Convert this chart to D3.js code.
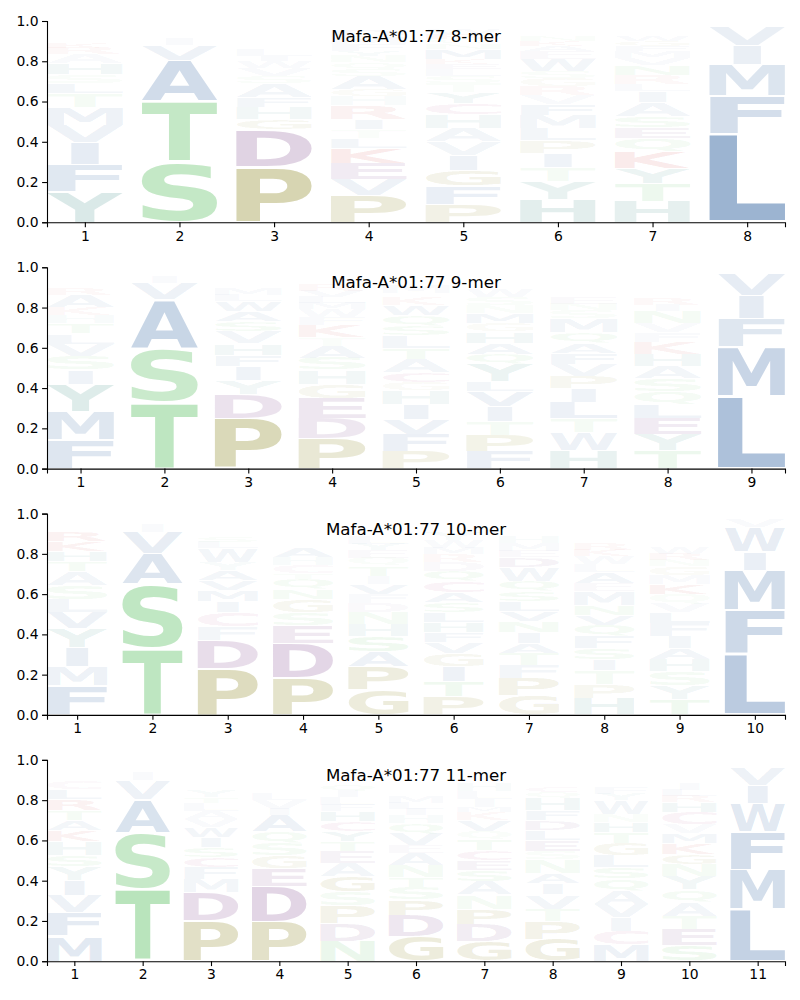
<!DOCTYPE html>
<html>
<head>
<meta charset="utf-8">
<script src="https://cdn.jsdelivr.net/npm/d3@7"></script>
<style>
  body { margin: 0; background: #fff; }
  svg { display: block; }
</style>
</head>
<body>
<script>
// letter:height pairs per position, stacked bottom to top
const allele = "Mafa-A*01:77";
const merLengths = [8, 9, 10, 11];

const mer8 = [
  "Y:.150 F:.135 I:.110 V:.085 M:.090 T:.070 L:.050 S:.045 H:.055 A:.045 R:.030 K:.025 W:.020 N:.020 Q:.020 E:.015 G:.015 C:.010 D:.010",
  "S:.300 T:.300 A:.205 V:.075 I:.035 L:.020 M:.020 F:.015 C:.010 G:.010 Y:.005",
  "P:.275 D:.185 G:.050 H:.060 F:.050 A:.070 S:.035 V:.040 W:.035 I:.025 L:.030 M:.020 E:.020 N:.020 T:.020 Y:.020 Q:.015 K:.010 R:.010",
  "P:.135 V:.080 E:.080 K:.075 L:.050 T:.040 I:.050 R:.070 H:.045 G:.035 A:.065 S:.035 Q:.035 N:.030 Y:.025 F:.035 M:.035 D:.030 W:.020 C:.020",
  "P:.090 F:.090 G:.080 I:.075 V:.065 A:.065 H:.070 C:.055 Y:.055 T:.045 S:.035 L:.035 E:.025 K:.025 M:.050 N:.025 Q:.025 R:.025 W:.025 D:.020",
  "H:.115 Y:.090 T:.070 I:.070 P:.060 L:.060 M:.065 F:.055 V:.045 R:.045 G:.040 S:.035 W:.060 E:.040 A:.025 K:.025 N:.025 D:.020 C:.020 Q:.020",
  "H:.105 T:.090 Y:.075 K:.080 Q:.065 E:.055 S:.055 A:.070 I:.055 L:.035 R:.045 N:.050 V:.035 M:.035 F:.025 G:.025 W:.025 D:.020 C:.015 P:.020",
  "L:.440 F:.190 M:.155 I:.095 V:.095 Y:.015 W:.010"
];

const mer9 = [
  "F:.145 M:.140 Y:.135 I:.070 S:.070 V:.060 L:.050 T:.050 H:.040 K:.040 A:.060 R:.030 N:.020 Q:.020 E:.010 G:.010 W:.010 D:.010 P:.010 C:.010",
  "T:.330 S:.270 A:.240 V:.080 I:.035 L:.010 M:.010 F:.010 C:.005 G:.005",
  "P:.250 D:.120 Y:.070 I:.070 F:.055 H:.055 V:.060 S:.050 A:.050 W:.050 L:.030 M:.030 E:.020 T:.020 N:.020 Q:.020 K:.010 R:.010 C:.010",
  "P:.150 D:.100 E:.100 G:.070 H:.070 S:.060 A:.060 T:.040 K:.060 F:.040 W:.040 M:.030 L:.030 V:.030 R:.030 Q:.020 N:.020 Y:.020 I:.020 C:.010",
  "P:.085 F:.085 V:.075 I:.075 H:.070 G:.040 C:.050 A:.065 T:.055 L:.060 S:.050 Q:.050 W:.050 K:.040 R:.020 M:.040 E:.020 N:.020 Y:.020 D:.020",
  "F:.085 P:.080 T:.070 I:.075 V:.075 L:.050 Y:.085 Q:.050 A:.055 H:.055 G:.040 M:.050 N:.040 S:.040 W:.040 E:.020 K:.020 R:.020 D:.020 C:.010",
  "H:.090 W:.090 T:.070 L:.080 I:.070 P:.060 V:.060 F:.055 A:.050 Q:.050 M:.070 S:.040 N:.030 E:.030 K:.020 R:.020 G:.020 Y:.020 D:.010 C:.010",
  "T:.090 Y:.080 E:.080 L:.070 Q:.065 S:.065 A:.060 H:.060 K:.060 F:.045 V:.045 N:.060 I:.030 R:.030 M:.020 W:.020 G:.020 P:.010 D:.010 C:.010",
  "L:.360 M:.245 F:.140 I:.115 V:.110 W:.010 Y:.010 T:.005"
];

const mer10 = [
  "F:.145 M:.095 I:.095 Y:.095 V:.080 L:.065 S:.070 A:.070 T:.050 H:.050 K:.050 R:.050 N:.020 Q:.015 W:.015 E:.010 G:.010",
  "T:.330 S:.320 A:.150 V:.110 I:.040 L:.010 M:.010 F:.010 G:.010",
  "P:.230 D:.140 F:.070 C:.070 I:.055 M:.055 V:.050 A:.050 Y:.040 W:.070 L:.030 S:.030 T:.020 G:.020 E:.020 N:.010 Q:.010 H:.010",
  "P:.185 D:.170 E:.090 S:.065 G:.065 N:.050 Q:.050 T:.030 C:.040 H:.040 A:.050 V:.020 K:.020 R:.020 Y:.020 L:.020 F:.020 I:.010 M:.010 W:.010",
  "G:.125 P:.115 A:.075 S:.075 H:.060 N:.060 D:.045 F:.045 V:.050 I:.040 T:.050 Q:.040 E:.040 Y:.030 L:.040 K:.020 R:.020 M:.020 W:.020 C:.010",
  "P:.090 T:.075 I:.075 G:.065 V:.055 F:.050 H:.050 L:.050 S:.050 A:.050 C:.055 Q:.050 D:.045 R:.040 M:.030 W:.040 Y:.040 E:.020 N:.020 K:.020",
  "G:.095 P:.085 F:.065 T:.060 A:.050 I:.055 N:.055 V:.050 L:.050 S:.050 Q:.050 W:.070 D:.050 E:.030 M:.040 H:.030 K:.020 R:.020 Y:.020 C:.020",
  "H:.080 P:.070 T:.070 I:.055 S:.055 F:.060 Q:.055 V:.050 N:.050 M:.070 E:.040 A:.055 L:.040 W:.040 K:.030 R:.030 Y:.020 G:.020 D:.020 C:.010",
  "T:.075 Y:.070 S:.070 H:.060 A:.055 I:.060 F:.065 L:.055 V:.045 Q:.045 K:.050 M:.045 G:.045 N:.030 R:.030 W:.030 E:.020 D:.020 P:.020 C:.010",
  "L:.300 F:.220 M:.200 I:.090 W:.120 V:.040 Y:.010 T:.010"
];

const mer11 = [
  "M:.125 F:.115 V:.085 I:.075 Y:.070 S:.055 H:.070 K:.055 A:.050 T:.050 R:.055 L:.050 C:.040 N:.020 W:.020 E:.020 G:.010 D:.010 P:.010",
  "T:.355 S:.285 A:.165 V:.095 I:.040 L:.015 M:.010 F:.010 G:.010",
  "P:.200 D:.140 M:.065 F:.060 C:.050 S:.050 I:.050 W:.050 V:.040 A:.040 L:.040 T:.030 Y:.030 E:.020 G:.020 N:.020 Q:.020 H:.020 K:.010 R:.010",
  "P:.195 D:.175 E:.090 G:.065 S:.060 Q:.060 A:.080 I:.030 V:.045 L:.030 K:.020 N:.020 H:.020 Y:.020 F:.020 M:.020 R:.010 W:.010",
  "N:.100 D:.090 P:.085 S:.070 G:.075 A:.065 E:.060 T:.050 Y:.050 C:.050 H:.050 F:.030 L:.040 I:.030 Q:.030 K:.020 R:.020 M:.020 W:.020 V:.020",
  "G:.125 D:.105 P:.075 S:.060 T:.050 N:.060 A:.060 E:.040 V:.060 Q:.050 H:.040 I:.030 L:.030 M:.030 Y:.020 F:.020 K:.020 R:.020 W:.020 C:.010",
  "G:.100 D:.085 P:.075 N:.070 A:.065 S:.055 E:.050 C:.050 T:.055 Q:.040 V:.055 K:.040 M:.025 I:.040 L:.040 H:.040 Y:.020 F:.020 W:.020 R:.020",
  "G:.110 P:.090 T:.060 V:.070 I:.055 A:.050 N:.070 S:.040 E:.055 L:.050 D:.050 F:.050 H:.060 Q:.030 C:.030 K:.020 R:.020 Y:.020 M:.020 W:.020",
  "M:.080 C:.070 I:.070 V:.065 A:.065 Q:.060 S:.055 L:.060 G:.060 T:.055 H:.050 N:.040 W:.070 Y:.030 F:.030 E:.020 K:.020 R:.020 D:.020 P:.010",
  "S:.080 E:.080 T:.065 A:.070 Q:.060 Y:.065 N:.060 G:.050 K:.055 M:.050 V:.045 C:.060 H:.050 R:.030 L:.030 I:.030 F:.020 D:.020 P:.020 W:.010",
  "L:.260 M:.195 F:.190 W:.140 I:.090 V:.090 Y:.010 T:.010"
];

const yTicks = [0, 0.2, 0.4, 0.6, 0.8, 1.0];

const panels = [mer8, mer9, mer10, mer11];

const colors = {
  A: "#4a76ac", V: "#4a76ac", I: "#4a76ac", L: "#4a76ac", M: "#4a76ac", F: "#4a76ac", W: "#4a76ac",
  Y: "#3d8c84", H: "#3d8c84",
  S: "#62c268", T: "#62c268", N: "#62c268", Q: "#62c268",
  D: "#7a3f88", E: "#7a3f88",
  C: "#b04a80",
  K: "#cc3333", R: "#cc3333",
  P: "#8a8520", G: "#8a8520"
};

const width = 800, height = 1000;
const left = 47, right = 785;
const top0 = 21, step = 246.3, panelH = 201.3;
const glyphW = 0.8, vpad = 0.05;
const font = "DejaVu Sans";

const svg = d3.select("body").append("svg")
    .attr("width", width)
    .attr("height", height);

// tight glyph boxes from canvas, so letters can be stretched into their slot
const FS = 200;
const ctx = document.createElement("canvas").getContext("2d");
ctx.font = "bold " + FS + "px \"" + font + "\"";
const metrics = {};
function metric(c) {
    if (!metrics[c]) {
        let m = ctx.measureText(c);
        metrics[c] = {l: m.actualBoundingBoxLeft, r: m.actualBoundingBoxRight,
                      a: m.actualBoundingBoxAscent, d: m.actualBoundingBoxDescent};
    }
    return metrics[c];
}
const eWidth = metric("E").l + metric("E").r;

function parse(col) {
    return col.trim().split(/\s+/).map(t => {
        let [c, v] = t.split(":");
        return {c: c, v: +v};
    });
}

panels.forEach((cols, i) => {
    let n = cols.length;
    let y0 = top0 + i * step;
    let x = d3.scaleLinear().domain([0.6, n + 0.4]).range([left, right]);
    let y = d3.scaleLinear().domain([0, 1]).range([y0 + panelH, y0]);
    let g = svg.append("g");

    let glyphs = [];
    cols.forEach((col, j) => {
        let base = 0;
        for (let d of parse(col)) {
            glyphs.push({pos: j + 1, c: d.c, v: d.v, b: base});
            base += d.v;
        }
    });

    g.selectAll("text.glyph")
        .data(glyphs)
        .join("text")
        .attr("class", "glyph")
        .attr("font-family", font)
        .attr("font-weight", "bold")
        .attr("font-size", FS)
        .attr("fill", d => colors[d.c])
        .attr("fill-opacity", d => Math.min(1, 1.25 * d.v))
        .attr("transform", d => {
            let m = metric(d.c);
            let gw = m.l + m.r, gh = m.a + m.d;
            let bw = x(d.pos + glyphW / 2) - x(d.pos - glyphW / 2);
            let top = y(d.b + d.v * (1 - vpad / 2));
            let bottom = y(d.b + d.v * vpad / 2);
            let sx = Math.min(bw / gw, bw / eWidth);
            let sy = (bottom - top) / gh;
            let cx = x(d.pos) - gw * sx / 2;
            return "translate(" + cx + "," + top + ") scale(" + sx + "," + sy + ") translate(" + m.l + "," + m.a + ")";
        })
        .text(d => d.c);

    let yAxis = g.append("g")
        .attr("transform", "translate(" + left + ",0)")
        .call(d3.axisLeft(y).tickValues(yTicks).tickFormat(d3.format(".1f"))
            .tickSizeOuter(0).tickSize(4.9).tickPadding(3.5));
    let xAxis = g.append("g")
        .attr("transform", "translate(0," + (y0 + panelH) + ")")
        .call(d3.axisBottom(x).tickValues(d3.range(1, n + 1)).tickFormat(d3.format("d"))
            .tickSizeOuter(0).tickSize(4.9).tickPadding(3.5));

    for (let ax of [yAxis, xAxis]) {
        ax.selectAll("text").attr("font-family", font).attr("font-size", 13.9).attr("fill", "#000");
        ax.selectAll("line").attr("stroke", "#000").attr("stroke-width", 1.1);
        ax.select(".domain").attr("stroke", "#000").attr("stroke-width", 1.1);
        ax.attr("font-family", null).attr("font-size", null);
    }

    g.append("text")
        .attr("x", (left + right) / 2)
        .attr("y", y0 + 21)
        .attr("text-anchor", "middle")
        .attr("font-family", font)
        .attr("font-size", 16.7)
        .attr("fill", "#000")
        .text(allele + " " + merLengths[i] + "-mer");
});
</script>
</body>
</html>
